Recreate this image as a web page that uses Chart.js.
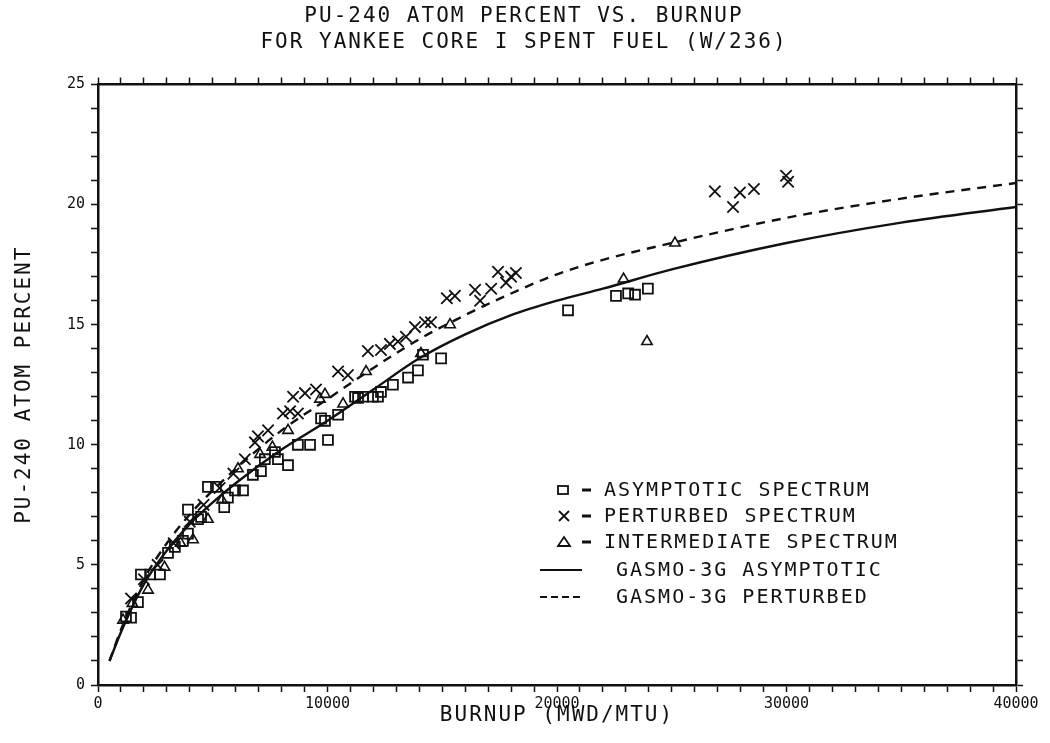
<!DOCTYPE html>
<html>
<head>
<meta charset="utf-8">
<script src="https://cdn.jsdelivr.net/npm/chart.js@4/dist/chart.umd.min.js"></script>
<style>
  body { margin: 0; background: #fff; }
  canvas { display: block; background: #fff; }
</style>
</head>
<body>
<canvas id="chart" width="1050" height="743"></canvas>
<script>
// asymptotic spectrum (squares)
const asymBurnup = [1220, 1440, 1740, 1870, 2270, 2700, 3050, 3350, 3700, 3920,
  3920, 4360, 4490, 4790, 5140, 5500, 5660, 5970, 6320, 6750,
  7100, 7270, 7710, 7840, 8280, 8710, 9240, 9720, 9890, 10020,
  10460, 11200, 11330, 11550, 11980, 12200, 12330, 12850, 13510, 13940,
  14160, 14950, 20480, 22570, 23100, 23400, 23960]
const asymPu240 = [2.85, 2.8, 3.45, 4.6, 4.6, 4.6, 5.5, 5.75, 6.0, 6.3,
  7.3, 6.9, 7.0, 8.25, 8.25, 7.4, 7.8, 8.1, 8.1, 8.75,
  8.9, 9.4, 9.7, 9.4, 9.15, 10.0, 10.0, 11.1, 11.0, 10.2,
  11.25, 12.0, 11.95, 12.0, 12.0, 12.0, 12.2, 12.5, 12.8, 13.1,
  13.75, 13.6, 15.6, 16.2, 16.3, 16.25, 16.5]

// perturbed spectrum (x marks)
const pertBurnup = [1440, 2000, 2600, 3300, 4000, 4600, 5300, 5900, 6400, 6840,
  6970, 7410, 8060, 8370, 8710, 8500, 9020, 9500, 10460, 10890,
  11760, 12330, 12720, 13070, 13420, 13810, 14250, 14510, 15200, 15550,
  16430, 16650, 17130, 17430, 17780, 18000, 18210, 26880, 27670, 27970,
  28580, 29980, 30070]
const pertPu240 = [3.6, 4.4, 5.0, 5.9, 6.8, 7.5, 8.2, 8.8, 9.4, 10.1,
  10.35, 10.6, 11.3, 11.4, 11.3, 12.0, 12.15, 12.3, 13.05, 12.9,
  13.9, 13.95, 14.2, 14.3, 14.5, 14.9, 15.1, 15.1, 16.1, 16.2,
  16.45, 16.0, 16.5, 17.2, 16.75, 17.0, 17.15, 20.55, 19.9, 20.5,
  20.65, 21.2, 20.95]

// intermediate spectrum (triangles)
const interBurnup = [1090, 1500, 2180, 2900, 3600, 4140, 4790, 5400, 6100, 7060,
  7600, 8280, 9670, 9890, 10680, 11680, 14070, 15340, 22900, 23920, 25140]
const interPu240 = [2.7, 3.4, 3.95, 4.9, 5.9, 6.05, 6.9, 7.7, 9.0, 9.6,
  9.9, 10.6, 11.9, 12.1, 11.7, 13.05, 13.8, 15.0, 16.9, 14.3, 18.4]

// GASMO-3G curves
const curveBurnup = [500, 1000, 2000, 3000, 4000, 5000, 6000, 8000, 10000, 12000,
  14000, 16000, 18000, 20000, 22000, 25000, 30000, 35000, 40000]
const gasmoAsym = [1.0, 2.2, 4.2, 5.6, 6.7, 7.6, 8.4, 9.8, 11.0, 12.3,
  13.6, 14.6, 15.4, 16.0, 16.5, 17.3, 18.4, 19.25, 19.9]
const gasmoPert = [1.0, 2.3, 4.4, 5.9, 7.1, 8.1, 9.0, 10.6, 11.9, 13.2,
  14.4, 15.4, 16.3, 17.1, 17.7, 18.4, 19.45, 20.25, 20.9]

const legendRows = [
  'ASYMPTOTIC SPECTRUM',
  'PERTURBED SPECTRUM',
  'INTERMEDIATE SPECTRUM',
  'GASMO-3G ASYMPTOTIC',
  'GASMO-3G PERTURBED',
]

const MONO = "'DejaVu Sans Mono', monospace"
const INK = '#111'

const pairs = (xs, ys) => xs.map((x, i) => ({ x, y: ys[i] }))

// wide plotter lettering for titles, plain spacing for tick numbers
const spacing = {
  id: 'spacing',
  beforeDraw(chart) {
    chart.ctx.letterSpacing = '2px'
  },
  beforeDatasetsDraw(chart) {
    chart.ctx.letterSpacing = '0px'
  },
}

const plotLegend = {
  id: 'plotLegend',
  afterDraw(chart) {
    const ctx = chart.ctx
    const rows = [490, 516, 542, 570, 597]
    ctx.save()
    ctx.letterSpacing = '2px'
    ctx.strokeStyle = INK
    ctx.fillStyle = INK
    ctx.lineWidth = 1.8
    ctx.font = '20px ' + MONO
    ctx.textBaseline = 'middle'

    // symbols
    ctx.strokeRect(558, rows[0] - 4, 10, 8)
    ctx.beginPath()
    ctx.moveTo(559, rows[1] - 5)
    ctx.lineTo(569, rows[1] + 5)
    ctx.moveTo(569, rows[1] - 5)
    ctx.lineTo(559, rows[1] + 5)
    ctx.moveTo(564, rows[2] - 5)
    ctx.lineTo(570, rows[2] + 4)
    ctx.lineTo(558, rows[2] + 4)
    ctx.closePath()
    ctx.stroke()

    ctx.lineWidth = 3
    ctx.beginPath()
    for (let i = 0; i < 3; i++) {
      ctx.moveTo(582, rows[i])
      ctx.lineTo(591, rows[i])
    }
    ctx.stroke()

    ctx.lineWidth = 2.2
    ctx.beginPath()
    ctx.moveTo(540, rows[3])
    ctx.lineTo(582, rows[3])
    ctx.stroke()
    ctx.setLineDash([7, 4])
    ctx.beginPath()
    ctx.moveTo(540, rows[4])
    ctx.lineTo(582, rows[4])
    ctx.stroke()
    ctx.setLineDash([])

    legendRows.forEach((t, i) => {
      ctx.fillText(t, i < 3 ? 604 : 616, rows[i] + 1)
    })
    ctx.restore()
  },
}

const axisBase = {
  type: 'linear',
  grid: { drawOnChartArea: false, color: INK, tickLength: 7, tickWidth: 1.5 },
  border: { color: INK, width: 2.5 },
}

new Chart(document.getElementById('chart'), {
  type: 'scatter',
  data: {
    datasets: [
      {
        label: 'ASYMPTOTIC SPECTRUM',
        data: pairs(asymBurnup, asymPu240),
        pointStyle: 'rect',
        pointRadius: 7,
        borderColor: INK,
        backgroundColor: 'rgba(0,0,0,0)',
        borderWidth: 1.8,
      },
      {
        label: 'PERTURBED SPECTRUM',
        data: pairs(pertBurnup, pertPu240),
        pointStyle: 'crossRot',
        pointRadius: 8,
        borderColor: INK,
        borderWidth: 1.8,
      },
      {
        label: 'INTERMEDIATE SPECTRUM',
        data: pairs(interBurnup, interPu240),
        pointStyle: 'triangle',
        pointRadius: 6,
        borderColor: INK,
        backgroundColor: 'rgba(0,0,0,0)',
        borderWidth: 1.6,
      },
      {
        type: 'line',
        label: 'GASMO-3G ASYMPTOTIC',
        data: pairs(curveBurnup, gasmoAsym),
        borderColor: INK,
        borderWidth: 2.4,
        pointRadius: 0,
        cubicInterpolationMode: 'monotone',
        fill: false,
      },
      {
        type: 'line',
        label: 'GASMO-3G PERTURBED',
        data: pairs(curveBurnup, gasmoPert),
        borderColor: INK,
        borderWidth: 2.4,
        borderDash: [9, 7],
        pointRadius: 0,
        cubicInterpolationMode: 'monotone',
        fill: false,
      },
    ],
  },
  options: {
    responsive: false,
    animation: false,
    layout: { padding: { left: 8, right: 10, top: 0, bottom: 3 } },
    plugins: {
      legend: { display: false },
      tooltip: { enabled: false },
      title: {
        display: true,
        text: ['PU-240 ATOM PERCENT VS. BURNUP', 'FOR YANKEE CORE I SPENT FUEL (W/236)'],
        color: INK,
        font: { family: MONO, size: 21, weight: 'normal', lineHeight: 1.25 },
        padding: { top: 3, bottom: 0 },
      },
    },
    scales: {
      x: {
        ...axisBase,
        position: 'bottom',
        min: 0,
        max: 40000,
        ticks: {
          stepSize: 1000,
          autoSkip: false,
          maxRotation: 0,
          padding: 3,
          z: 1,
          color: INK,
          font: { family: MONO, size: 15 },
          callback: (v) => (v % 10000 === 0 ? v : ''),
        },
        title: {
          display: true,
          text: 'BURNUP (MWD/MTU)',
          color: INK,
          font: { family: MONO, size: 21 },
          padding: { top: 0, bottom: 12 },
        },
        afterFit: (s) => { s.height = 55 },
      },
      x2: {
        ...axisBase,
        axis: 'x',
        position: 'top',
        min: 0,
        max: 40000,
        ticks: { stepSize: 1000, autoSkip: false, maxRotation: 0, z: 1, callback: () => '' },
        afterFit: (s) => { s.height = 29 },
      },
      y: {
        ...axisBase,
        position: 'left',
        min: 0,
        max: 25,
        ticks: {
          stepSize: 1,
          autoSkip: false,
          padding: 6,
          z: 1,
          color: INK,
          font: { family: MONO, size: 15 },
          callback: (v) => (v % 5 === 0 ? v : ''),
        },
        title: {
          display: true,
          text: 'PU-240 ATOM PERCENT',
          color: INK,
          font: { family: MONO, size: 21 },
          padding: { top: 4, bottom: 0 },
        },
        afterFit: (s) => { s.width = 90 },
      },
      y2: {
        ...axisBase,
        axis: 'y',
        position: 'right',
        min: 0,
        max: 25,
        ticks: { stepSize: 1, autoSkip: false, z: 1, callback: () => '' },
        afterFit: (s) => { s.width = 24 },
      },
    },
  },
  plugins: [spacing, plotLegend],
})
</script>
</body>
</html>
